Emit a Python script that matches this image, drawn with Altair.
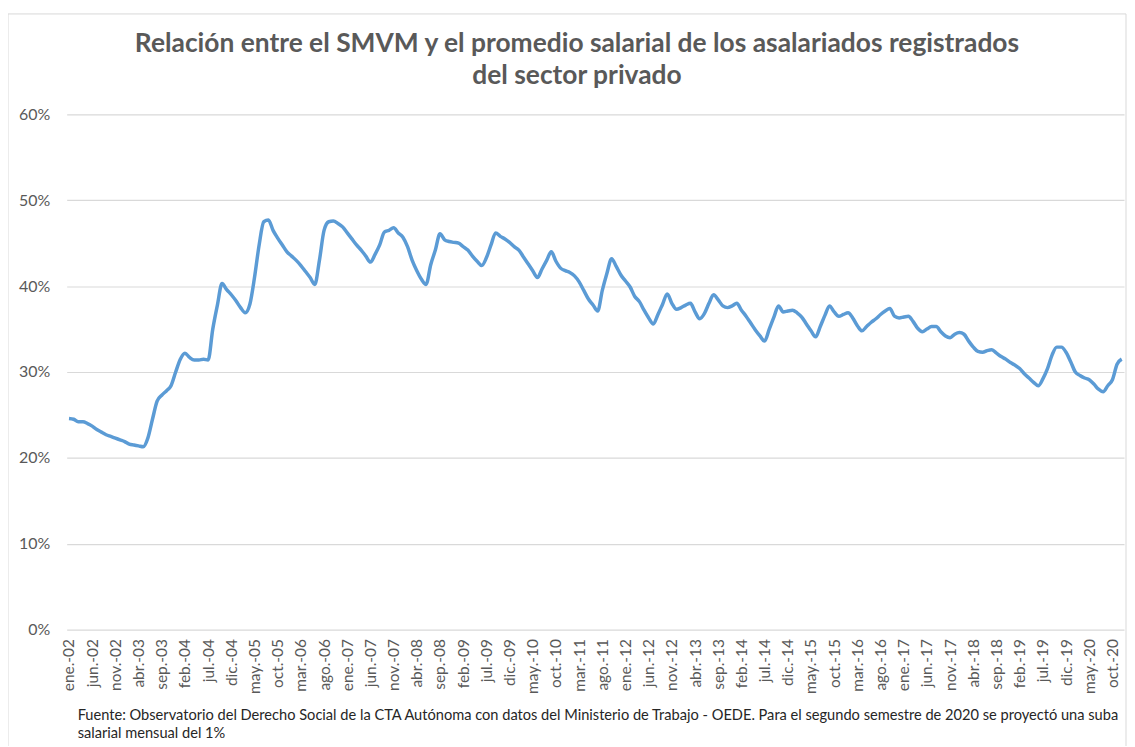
import altair as alt
import pandas as pd

tick_labels = ["ene.-02", "jun.-02", "nov.-02", "abr.-03", "sep.-03", "feb.-04", "jul.-04", "dic.-04",
               "may.-05", "oct.-05", "mar.-06", "ago.-06", "ene.-07", "jun.-07", "nov.-07", "abr.-08",
               "sep.-08", "feb.-09", "jul.-09", "dic.-09", "may.-10", "oct.-10", "mar.-11", "ago.-11",
               "ene.-12", "jun.-12", "nov.-12", "abr.-13", "sep.-13", "feb.-14", "jul.-14", "dic.-14",
               "may.-15", "oct.-15", "mar.-16", "ago.-16", "ene.-17", "jun.-17", "nov.-17", "abr.-18",
               "sep.-18", "feb.-19", "jul.-19", "dic.-19", "may.-20", "oct.-20"]

# monthly ratio SMVM / average private registered wage (%), ene-2002 .. dic-2020
ratio = [
    24.6, 24.5, 24.2, 24.2, 24.0, 23.7, 23.3, 23.0, 22.7, 22.5, 22.3, 22.1,   # 2002
    21.9, 21.6, 21.5, 21.4, 21.3, 22.3, 24.5, 26.6, 27.3, 27.8, 28.4, 30.0,   # 2003
    31.5, 32.2, 31.7, 31.4, 31.4, 31.5, 31.4, 35.0, 37.8, 40.3, 39.6, 39.0,   # 2004
    38.3, 37.5, 36.9, 37.9, 41.0, 44.8, 47.5, 47.7, 46.5, 45.6, 44.8, 44.0,   # 2005
    43.5, 43.0, 42.4, 41.7, 41.0, 40.2, 43.0, 46.5, 47.5, 47.6, 47.3, 46.9,   # 2006
    46.2, 45.5, 44.8, 44.2, 43.5, 42.8, 43.7, 44.8, 46.3, 46.5, 46.8, 46.2,   # 2007
    45.7, 44.6, 43.0, 41.8, 40.8, 40.2, 42.5, 44.2, 46.1, 45.4, 45.2, 45.1,   # 2008
    45.0, 44.6, 44.2, 43.5, 42.9, 42.4, 43.3, 44.8, 46.2, 45.8, 45.5, 45.1,   # 2009
    44.6, 44.2, 43.4, 42.6, 41.8, 41.0, 42.0, 43.0, 44.0, 42.9, 42.1, 41.8,   # 2010
    41.6, 41.2, 40.5, 39.5, 38.5, 37.8, 37.1, 39.5, 41.5, 43.2, 42.3, 41.3,   # 2011
    40.6, 39.9, 38.8, 38.2, 37.2, 36.3, 35.6, 36.7, 37.9, 39.1, 38.0, 37.3,   # 2012
    37.5, 37.8, 38.0, 37.0, 36.2, 36.8, 38.0, 39.0, 38.4, 37.7, 37.5, 37.7,   # 2013
    38.0, 37.2, 36.5, 35.7, 34.9, 34.2, 33.6, 35.0, 36.4, 37.7, 37.0, 37.1,   # 2014
    37.2, 36.9, 36.4, 35.6, 34.8, 34.1, 35.3, 36.6, 37.7, 37.0, 36.5, 36.7,   # 2015
    36.9, 36.3, 35.4, 34.8, 35.3, 35.8, 36.2, 36.7, 37.1, 37.4, 36.5, 36.3,   # 2016
    36.4, 36.5, 35.9, 35.1, 34.7, 35.0, 35.3, 35.3, 34.7, 34.2, 34.0, 34.4,   # 2017
    34.6, 34.4, 33.6, 32.9, 32.4, 32.3, 32.5, 32.6, 32.2, 31.8, 31.5, 31.1,   # 2018
    30.8, 30.4, 29.8, 29.3, 28.8, 28.4, 29.2, 30.4, 32.0, 32.9, 32.9, 32.3,   # 2019
    31.2, 30.0, 29.6, 29.3, 29.1, 28.6, 28.0, 27.7, 28.4, 29.1, 30.9, 31.5,   # 2020
]

title_lines = ["Relación entre el SMVM y el promedio salarial de los asalariados registrados",
               "del sector privado"]
footer_lines = ["Fuente:  Observatorio del Derecho Social de la CTA Autónoma  con datos del Ministerio de Trabajo - OEDE.  Para el segundo semestre de 2020 se proyectó una suba",
                "salarial mensual del 1%"]

df = pd.DataFrame({"idx": list(range(len(ratio))), "ratio": ratio})

W, H = 1063, 518
FONT = "Lato"
GREY = "#595959"

label_array = "[" + ",".join(f"'{t}'" for t in tick_labels) + "]"

line = alt.Chart(df).mark_line(
    color="#5B9BD5", strokeWidth=3.5, interpolate="monotone"
).encode(
    x=alt.X("idx:Q",
            scale=alt.Scale(domain=[-0.5, len(ratio) - 0.5], nice=False, zero=False),
            axis=alt.Axis(values=list(range(0, len(tick_labels) * 5, 5)),
                          labelExpr=label_array + "[round(datum.value/5)]",
                          labelAngle=270, labelFont=FONT, labelFontSize=15.5,
                          labelColor=GREY, labelPadding=9, domain=False, ticks=False,
                          grid=False, title=None, labelOverlap=False, labelFlush=False)),
    y=alt.Y("ratio:Q",
            scale=alt.Scale(domain=[0, 60], nice=False),
            axis=alt.Axis(values=[0, 10, 20, 30, 40, 50, 60],
                          labelExpr="datum.value + '%'",
                          labelFont=FONT, labelFontSize=16, labelColor=GREY,
                          labelPadding=17, domain=False, ticks=False,
                          grid=True, gridColor="#d9d9d9", gridWidth=1.2, title=None)),
)

one = pd.DataFrame({"k": [0]})


def text_layer(txt, x, y, size, align="left", weight="normal", color="#262626"):
    return alt.Chart(one).mark_text(
        text=txt, align=align, baseline="alphabetic", font=FONT, fontSize=size,
        fontWeight=weight, color=color, clip=False
    ).encode(x=alt.value(x), y=alt.value(y))


title1 = text_layer(title_lines[0], 513, -63, 26.5, align="center", weight="bold", color=GREY)
title2 = text_layer(title_lines[1], 513, -31, 26.5, align="center", weight="bold", color=GREY)
footer1 = text_layer(footer_lines[0], 11, H + 91, 14.7)
footer2 = text_layer(footer_lines[1], 11, H + 109, 14.7)

border = alt.Chart(one).mark_rect(
    fill=None, stroke="#d9d9d9", strokeWidth=1, clip=False
).encode(x=alt.value(-59), x2=alt.value(W + 2), y=alt.value(-101), y2=alt.value(H + 130))

chart = alt.layer(border, line, title1, title2, footer1, footer2).properties(
    width=W, height=H,
    autosize=alt.AutoSizeParams(type="none"),
    padding={"left": 59, "top": 105, "right": 3, "bottom": 115},
    background="white",
).configure_view(stroke=None)

chart.save("out.html", embed_options={"renderer": "svg", "actions": False})
